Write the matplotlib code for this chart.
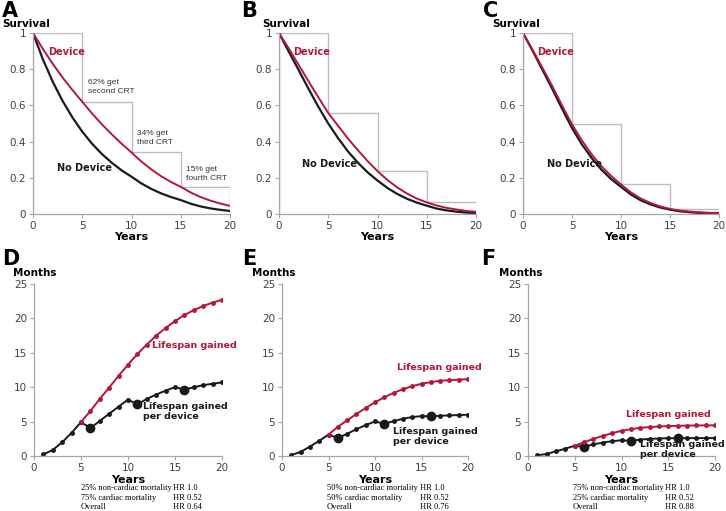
import matplotlib
matplotlib.use("Agg")
import matplotlib.pyplot as plt

W, H = 726, 511
RED = '#b5173b'
BLK = '#1a1a1a'
GRAY = '#bdbdbd'

years = list(range(21))

# survival curves (yearly)
surv_a_dev = [1, 0.912, 0.83, 0.754, 0.685, 0.62, 0.555, 0.495, 0.44, 0.388, 0.34,
              0.29, 0.247, 0.209, 0.177, 0.15, 0.119, 0.094, 0.074, 0.058, 0.045]
surv_a_no = [1, 0.855, 0.731, 0.625, 0.534, 0.455, 0.388, 0.331, 0.283, 0.241, 0.206,
             0.169, 0.139, 0.114, 0.094, 0.077, 0.057, 0.042, 0.031, 0.023, 0.017]
surv_b_dev = [1, 0.914, 0.823, 0.733, 0.644, 0.558, 0.487, 0.417, 0.353, 0.292, 0.237,
              0.188, 0.147, 0.113, 0.085, 0.064, 0.047, 0.034, 0.025, 0.017, 0.012]
surv_b_no = [1, 0.896, 0.795, 0.691, 0.592, 0.5, 0.419, 0.346, 0.284, 0.23, 0.185,
             0.144, 0.111, 0.084, 0.063, 0.046, 0.03, 0.02, 0.013, 0.008, 0.005]
surv_c_dev = [1, 0.905, 0.806, 0.705, 0.598, 0.495, 0.407, 0.33, 0.264, 0.21, 0.163,
              0.12, 0.086, 0.061, 0.042, 0.028, 0.019, 0.0136, 0.0096, 0.0067, 0.005]
surv_c_no = [1, 0.9, 0.795, 0.69, 0.58, 0.475, 0.385, 0.31, 0.245, 0.193, 0.15,
             0.108, 0.076, 0.053, 0.036, 0.024, 0.015, 0.01, 0.006, 0.004, 0.003]

# share getting each device (step outline)
step_x = [0, 5, 10, 15, 20]
steps_a = [1, 0.62, 0.34, 0.15]
steps_b = [1, 0.558, 0.237, 0.064]
steps_c = [1, 0.495, 0.163, 0.028]

# months gained
m_years = list(range(1, 21))
gain_d = [None, None, None, None, 4.93, 6.54, 8.3, 9.95, 11.66, 13.27, 14.83, 16.2,
          17.5, 18.6, 19.6, 20.5, 21.2, 21.8, 22.3, 22.7]
per_d = [0.24, 0.88, 2.0, 3.37, 4.93, 4.05, 5.1, 6.15, 7.17, 8.2, 7.5, 8.3, 8.93,
         9.5, 10.0, 9.66, 10.0, 10.3, 10.5, 10.7]
gain_e = [None, None, None, None, 3.12, 4.24, 5.17, 6.1, 6.98, 7.8, 8.54, 9.17, 9.7,
          10.15, 10.5, 10.73, 10.93, 11.02, 11.1, 11.17]
per_e = [0.15, 0.59, 1.37, 2.2, 3.12, 2.6, 3.22, 3.9, 4.49, 5.02, 4.68, 5.07, 5.41,
         5.66, 5.8, 5.76, 5.85, 5.9, 5.95, 6.0]
gain_f = [None, None, None, None, 1.5, 2.0, 2.49, 2.93, 3.32, 3.66, 3.9, 4.1, 4.2,
          4.29, 4.34, 4.39, 4.42, 4.44, 4.45, 4.46]
per_f = [0.1, 0.3, 0.68, 1.07, 1.5, 1.32, 1.7, 1.95, 2.15, 2.29, 2.2, 2.39, 2.49,
         2.54, 2.59, 2.59, 2.6, 2.6, 2.6, 2.61]
new_device_years = [6, 11, 16]

notes_d = [("25% non-cardiac mortality", "HR 1.0"), ("75% cardiac mortality", "HR 0.52"), ("Overall", "HR 0.64")]
notes_e = [("50% non-cardiac mortality", "HR 1.0"), ("50% cardiac mortality", "HR 0.52"), ("Overall", "HR 0.76")]
notes_f = [("75% non-cardiac mortality", "HR 1.0"), ("25% cardiac mortality", "HR 0.52"), ("Overall", "HR 0.88")]

fig = plt.figure(figsize=(W / 100, H / 100), dpi=100)


def px_axes(x0, x1, ytop, ybot):
    return fig.add_axes([x0 / W, 1 - ybot / H, (x1 - x0) / W, (ybot - ytop) / H])


def ftext(x, y, s, **kw):
    fig.text(x / W, 1 - y / H, s, **kw)


def style(ax):
    for side in ['top', 'right']:
        ax.spines[side].set_visible(False)
    for side in ['left', 'bottom']:
        ax.spines[side].set_color('#a6a6a6')
        ax.spines[side].set_linewidth(0.9)
    ax.tick_params(direction='out', length=3, width=0.8, color='#a6a6a6',
                   labelsize=7.5, labelcolor='#404040', pad=2)


def survival_panel(rect, dev, no, steps, dev_xy, no_xy, notes=None):
    ax = px_axes(*rect)
    style(ax)
    ax.stairs(steps, step_x, color=GRAY, lw=1.0, baseline=0)
    ax.plot(years, no, color=BLK, lw=1.6)
    ax.plot(years, dev, color=RED, lw=1.4)
    ax.set_xlim(0, 20)
    ax.set_ylim(0, 1)
    ax.set_xticks([0, 5, 10, 15, 20])
    ax.set_yticks([0, 0.2, 0.4, 0.6, 0.8, 1])
    ax.set_yticklabels(['0', '0.2', '0.4', '0.6', '0.8', '1'])
    ax.text(*dev_xy, 'Device', color=RED, fontsize=7, fontweight='bold', va='center')
    ax.text(*no_xy, 'No Device', color=BLK, fontsize=7, fontweight='bold', va='center')
    if notes:
        for x, y, s in notes:
            ax.text(x, y, s, fontsize=6, color='#333333', family='Liberation Sans',
                    linespacing=1.45, va='center')
    x0, x1, ytop, ybot = rect
    ftext((x0 + x1) / 2, ybot + 23, 'Years', fontsize=8, fontweight='bold', ha='center', va='center')
    return ax


def months_panel(rect, gain, per, gain_xy, per_xy, note_x, hr_x, notes):
    ax = px_axes(*rect)
    style(ax)
    ax.plot(m_years, per, color=BLK, lw=1.4, marker='o', ms=2.5)
    big = [per[m_years.index(y)] for y in new_device_years]
    ax.plot(new_device_years, big, 'o', color=BLK, ms=6)
    gx = [y for y, g in zip(m_years, gain) if g is not None]
    gy = [g for g in gain if g is not None]
    ax.plot(gx, gy, color=RED, lw=1.4, marker='o', ms=2.5)
    ax.set_xlim(0, 20)
    ax.set_ylim(0, 25)
    ax.set_xticks([0, 5, 10, 15, 20])
    ax.set_yticks([0, 5, 10, 15, 20, 25])
    ax.text(*gain_xy, 'Lifespan gained', color=RED, fontsize=6.8, fontweight='bold', va='center')
    ax.text(*per_xy, 'Lifespan gained\nper device', color=BLK, fontsize=6.8,
            fontweight='bold', va='center', linespacing=1.15)
    x0, x1, ytop, ybot = rect
    ftext((x0 + x1) / 2, ybot + 24, 'Years', fontsize=8, fontweight='bold', ha='center', va='center')
    for i, (a, b) in enumerate(notes):
        ftext(note_x, 488 + i * 9.5, a, fontsize=6, family='Liberation Serif', va='center')
        ftext(hr_x, 488 + i * 9.5, b, fontsize=6, family='Liberation Serif', va='center')
    return ax


survival_panel((33, 230, 33, 214), surv_a_dev, surv_a_no, steps_a, (1.5, 0.895), (2.4, 0.255),
               notes=[(5.6, 0.70, '62% get\nsecond CRT'), (10.6, 0.42, '34% get\nthird CRT'),
                      (15.5, 0.22, '15% get\nfourth CRT')])
survival_panel((279, 476, 33, 214), surv_b_dev, surv_b_no, steps_b, (1.42, 0.895), (2.35, 0.276))
survival_panel((523, 719, 33, 214), surv_c_dev, surv_c_no, steps_c, (1.43, 0.895), (2.45, 0.276))

months_panel((34, 222, 284, 456), gain_d, per_d, (12.6, 16.0), (11.6, 6.4), 81, 173, notes_d)
months_panel((282, 468, 284, 456), gain_e, per_e, (12.4, 12.9), (11.9, 2.8), 327, 420, notes_e)
months_panel((528, 715, 284, 456), gain_f, per_f, (10.5, 6.1), (12.0, 1.0), 573, 665, notes_f)

# panel letters and axis titles
for x, y, s in [(2, 1, 'A'), (241, 1, 'B'), (483, 1, 'C'), (2, 249, 'D'), (242, 249, 'E'), (481, 249, 'F')]:
    ftext(x, y, s, fontsize=15, fontweight='bold', va='top')
for x in [2, 262, 492]:
    ftext(x, 24, 'Survival', fontsize=7.5, fontweight='bold', va='center')
for x in [13, 252, 499]:
    ftext(x, 273, 'Months', fontsize=7.5, fontweight='bold', va='center')

fig.savefig('out.png', dpi=100)
